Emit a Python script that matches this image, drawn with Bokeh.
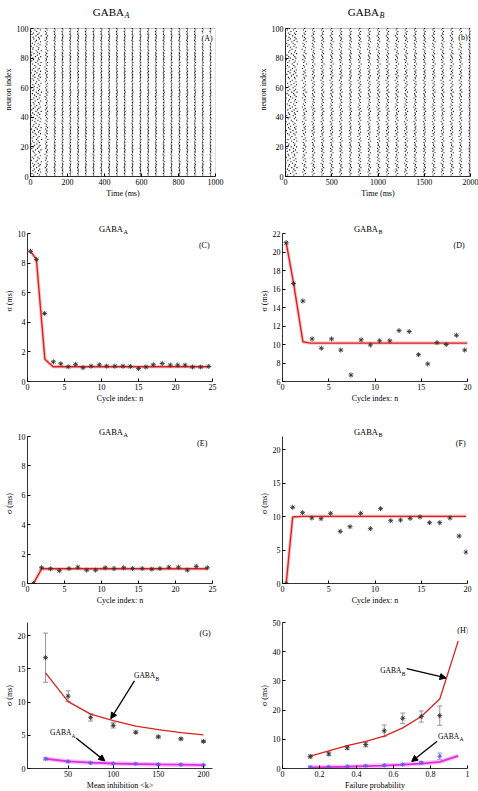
from bokeh.plotting import figure
from bokeh.layouts import column, row
from bokeh.models import (Range1d, Label, Arrow, NormalHead, Whisker, TeeHead,
                          ColumnDataSource, FixedTicker, BoxAnnotation)
from bokeh.embed import file_html
from bokeh.resources import INLINE

FONT = "Liberation Serif"

# ---------------- data ----------------
neuron_offset = [
    0.3, -0.8, 1.2, -0.2, 0.6, -1.5, 0.1, 0.9, -0.4, 1.7,
    -1.1, 0.2, -0.6, 1.0, -1.9, 0.5, -0.1, 1.4, -0.9, 0.0,
    0.8, -1.3, 0.4, -0.5, 1.9, -0.7, 0.2, -1.6, 1.1, -0.3,
    0.7, -1.0, 1.5, -0.2, 0.3, -1.8, 0.9, -0.6, 1.3, 0.1,
    -1.2, 0.6, -0.4, 1.6, -0.9, 0.0, 1.0, -1.4, 0.5, -0.1,
    1.2, -0.8, 0.3, -1.7, 0.8, -0.5, 1.8, -0.2, 0.4, -1.1,
    0.6, -0.3, 1.4, -1.5, 0.2, -0.7, 1.0, -0.1, 0.7, -1.3,
    1.1, -0.6, 0.3, -2.0, 0.9, -0.4, 1.5, -0.9, 0.1, -0.2,
    1.3, -1.0, 0.5, -0.8, 1.7, -0.3, 0.0, -1.2, 0.8, -0.5,
    1.2, -1.6, 0.4, -0.1, 1.6, -0.7, 0.2, -1.4, 1.0, -0.6]

a_times = [15, 45, 86, 131, 173, 215, 257, 299, 341, 383, 425, 467, 509, 551,
           594, 636, 678, 720, 762, 805, 847, 889, 931, 973]
a_jitter = [9.0, 8.0, 4.0, 2.0, 1.8, 1.6, 1.8, 1.5, 1.6, 1.7, 1.6, 1.6, 1.6, 1.6,
            1.5, 1.6, 1.7, 1.8, 1.7, 1.7, 1.7, 1.6, 1.6, 1.6]
b_times = [35, 100, 203, 300, 399, 498, 598, 701, 801, 904, 1004, 1103, 1203,
           1302, 1402, 1502, 1601, 1698, 1797, 1893, 1990]
b_jitter = [20, 15, 12, 9, 8.5, 9, 8.5, 7, 9, 8.5, 9, 9, 10, 10, 8, 7, 9, 9, 9.5,
            8.5, 4]

c_n = [0.4, 1.2, 2.3, 3.5, 4.5, 5.5, 6.5, 7.5, 8.6, 9.7, 10.7, 11.8, 12.9, 13.9,
       15.0, 16.0, 17.0, 18.2, 19.3, 20.3, 21.3, 22.3, 23.4, 24.5]
c_sigma = [8.8, 8.25, 4.6, 1.33, 1.2, 1.0, 1.16, 0.93, 1.04, 1.13, 1.04, 1.04, 1.04,
           1.02, 0.87, 0.98, 1.13, 1.22, 1.11, 1.11, 1.11, 0.98, 0.98, 1.02]
c_theory_n = [0.4, 1.2, 2.35, 3.45, 24.5]
c_theory = [8.8, 8.25, 1.5, 1.0, 1.0]

d_n = [0.4, 1.2, 2.2, 3.2, 4.2, 5.3, 6.3, 7.4, 8.5, 9.5, 10.5, 11.6, 12.6, 13.7,
       14.7, 15.7, 16.7, 17.7, 18.8, 19.7]
d_sigma = [21.0, 16.6, 14.7, 10.6, 9.6, 10.6, 9.4, 6.7, 10.5, 9.95, 10.4, 10.4,
           11.5, 11.4, 8.9, 7.9, 10.2, 10.0, 11.0, 9.4]
d_theory_n = [0.4, 1.2, 2.2, 3.0, 20.0]
d_theory = [21.0, 16.6, 10.3, 10.15, 10.15]

e_n = [0.8, 1.9, 3.1, 4.3, 5.6, 6.8, 8.0, 9.2, 10.5, 11.7, 13.0, 14.2, 15.5, 16.8,
       17.9, 19.1, 20.4, 21.6, 22.8, 24.3]
e_sigma = [0.0, 1.07, 1.0, 0.87, 1.02, 1.11, 0.91, 0.91, 1.07, 1.02, 1.07, 1.02,
           1.02, 0.98, 1.02, 1.11, 1.11, 0.91, 1.16, 1.07]
e_theory_n = [0.8, 1.9, 24.3]
e_theory = [0.0, 1.0, 1.0]

f_n = [0.4, 1.1, 2.17, 3.17, 4.17, 5.2, 6.24, 7.3, 8.45, 9.5, 10.6, 11.7, 12.76,
       13.8, 14.87, 15.9, 17.0, 18.1, 19.1, 19.85]
f_sigma = [0.0, 11.4, 10.6, 9.8, 9.7, 10.5, 7.8, 8.5, 10.5, 8.2, 11.2, 9.4, 9.5,
           9.75, 9.95, 9.1, 9.1, 9.8, 7.1, 4.7]
f_theory_n = [0.4, 1.1, 2.2, 19.85]
f_theory = [0.0, 9.95, 10.05, 10.05]

g_k = [25, 50, 75, 100, 125, 150, 175, 200]
g_theory_B = [14.4, 10.07, 8.2, 7.2, 6.4, 5.85, 5.4, 5.06]
g_sim_B = [16.7, 10.9, 7.7, 6.5, 5.45, 4.77, 4.47, 4.08]
g_err_B = [3.7, 0.8, 0.55, 0.4, 0.2, 0.15, 0.15, 0.15]
g_theory_A = [1.47, 1.08, 0.88, 0.75, 0.68, 0.62, 0.57, 0.52]
g_sim_A = [1.45, 1.05, 0.85, 0.75, 0.7, 0.62, 0.58, 0.52]
g_err_A = [0.15, 0.12, 0.1, 0.1, 0.1, 0.1, 0.1, 0.1]

h_p = [0.15, 0.25, 0.35, 0.45, 0.55, 0.65, 0.75, 0.85, 0.95]
h_theory_B = [4.2, 6.0, 7.8, 9.3, 11.1, 13.9, 17.8, 23.8, 43.7]
h_theory_A = [0.4, 0.5, 0.6, 0.8, 1.0, 1.3, 1.7, 2.3, 4.3]
h_sim_p = [0.15, 0.25, 0.35, 0.45, 0.55, 0.65, 0.75, 0.85]
h_sim_B = [4.1, 5.0, 7.1, 8.2, 12.9, 17.2, 17.8, 18.1]
h_err_B = [0.5, 0.6, 0.6, 0.8, 2.0, 1.8, 1.9, 3.3]
h_sim_A = [0.5, 0.55, 0.7, 0.9, 1.1, 1.4, 2.0, 4.2]
h_err_A = [0.2, 0.2, 0.2, 0.2, 0.3, 0.3, 0.4, 1.1]

RED = "#dd1f1f"
RED_HALO = "#f3a3a3"
MAG = "#e22ee2"
MAG_HALO = "#f29af2"
STAR = "#333333"
BLUE = "#5a5ae6"

# left column: border 27 + frame 185 + 10 ; right column: 60 + 185 + 10
LEFT_COL = (27, 10)
RIGHT_COL = (60, 10)
FRAME_W = 185


def style_axis(ax):
    ax.axis_line_color = "black"
    ax.axis_line_width = 0.8
    ax.major_tick_in = 3
    ax.major_tick_out = 0
    ax.major_tick_line_color = "black"
    ax.minor_tick_line_color = None
    ax.major_label_text_font = FONT
    ax.major_label_text_font_size = "8px"
    ax.major_label_text_color = "black"
    ax.major_label_standoff = 2
    ax.axis_label_text_font = FONT
    ax.axis_label_text_font_size = "8px"
    ax.axis_label_text_font_style = "normal"
    ax.axis_label_text_color = "black"
    ax.axis_label_standoff = 1


def make_fig(xr, yr, axis_h, extra, col, T, B, xticks, yticks, xlabel, ylabel,
             boxed=False):
    # the frame is `extra` px taller than the axis, so titles fit inside it
    ytop = yr[1] + extra * (yr[1] - yr[0]) / axis_h
    p = figure(frame_width=FRAME_W, frame_height=axis_h + extra,
               x_range=Range1d(*xr), y_range=Range1d(yr[0], ytop),
               output_backend="svg", toolbar_location=None,
               min_border_left=col[0], min_border_right=col[1], min_border_top=T,
               min_border_bottom=B, title=None)
    p.grid.visible = False
    p.outline_line_color = None
    p.xaxis.ticker = FixedTicker(ticks=xticks)
    p.yaxis.ticker = FixedTicker(ticks=yticks)
    p.yaxis.bounds = (yr[0], yr[1])
    for ax in p.axis:
        style_axis(ax)
    p.below[0].axis_label = xlabel
    p.left[0].axis_label = ylabel
    if boxed:
        p.add_layout(BoxAnnotation(left=xr[0], right=xr[1], bottom=yr[0], top=yr[1],
                                   fill_alpha=0, line_color="black", line_width=0.8))
    return p


def txt(p, x, y, text, size="8px", align="left", baseline="alphabetic",
        xo=0, yo=0, style="normal", bg=None):
    p.add_layout(Label(x=x, y=y, text=text, text_font=FONT, text_font_size=size,
                       text_align=align, text_baseline=baseline, x_offset=xo,
                       y_offset=yo, text_font_style=style, text_color="black",
                       background_fill_color=bg))


def sub_title(p, xc, ytop, sub, big=False):
    if big:
        txt(p, xc, ytop, "GABA", size="11px", align="right", xo=1, yo=17)
        txt(p, xc, ytop, sub, size="8px", align="left", xo=1.5, yo=13, style="italic")
    else:
        txt(p, xc, ytop, "GABA", size="8.5px", align="right", xo=3, yo=5)
        txt(p, xc, ytop, sub, size="6px", align="left", xo=3.5, yo=1.5)


def raster(p, times, jitter, offs):
    xs, ys = [], []
    for t, j in zip(times, jitter):
        for i, o in enumerate(offs):
            xs.append(t + j * o)
            ys.append(i + 1)
    p.scatter(xs, ys, marker="square", size=1.1, color="#111111", line_width=0)


# ---------------- row 1: rasters ----------------
pA = make_fig((0, 1000), (0, 100), 148, 26, LEFT_COL, 2, 33,
              [0, 200, 400, 600, 800, 1000], [0, 20, 40, 60, 80, 100],
              "Time (ms)", "neuron index", boxed=True)
raster(pA, a_times, a_jitter, neuron_offset)
sub_title(pA, 500, 100, "A", big=True)
txt(pA, 985, 93.5, "(A)", align="right", baseline="middle", bg="white")

pB = make_fig((0, 2000), (0, 100), 148, 26, RIGHT_COL, 2, 33,
              [0, 500, 1000, 1500, 2000], [0, 20, 40, 60, 80, 100],
              "Time (ms)", "neuron index", boxed=True)
raster(pB, b_times, b_jitter, neuron_offset[::-1])
sub_title(pB, 1000, 100, "B", big=True)
txt(pB, 1968, 94, "(b)", align="right", baseline="middle", bg="white")


def sigma_panel(xr, yr, axis_h, col, T, B, xticks, yticks, n, s, tn, tv, sub,
                tag, tagxy):
    p = make_fig(xr, yr, axis_h, 13, col, T, B, xticks, yticks,
                 "Cycle index: n", "σ (ms)")
    p.line(tn, tv, color=RED_HALO, line_width=3.5, alpha=0.6)
    p.line(tn, tv, color=RED, line_width=1.4)
    p.scatter(n, s, marker="asterisk", size=5, line_color=STAR, line_width=0.9)
    sub_title(p, (xr[0] + xr[1]) / 2, yr[1], sub)
    txt(p, tagxy[0], tagxy[1], tag, align="right", baseline="middle")
    return p


pC = sigma_panel((0, 25), (0, 10), 148, LEFT_COL, 11, 32, [0, 5, 10, 15, 20, 25],
                 [0, 2, 4, 6, 8, 10], c_n, c_sigma, c_theory_n, c_theory, "A",
                 "(C)", (24.6, 9.2))
pD = sigma_panel((0, 20), (6, 22), 148, RIGHT_COL, 11, 32, [0, 5, 10, 15, 20],
                 [6, 8, 10, 12, 14, 16, 18, 20, 22], d_n, d_sigma, d_theory_n,
                 d_theory, "B", "(D)", (19.7, 20.7))
pE = sigma_panel((0, 25), (0, 10), 147, LEFT_COL, 10, 29, [0, 5, 10, 15, 20, 25],
                 [0, 2, 4, 6, 8, 10], e_n, e_sigma, e_theory_n, e_theory, "A",
                 "(E)", (24.3, 9.5))
pF = sigma_panel((0, 20), (0, 22), 147, RIGHT_COL, 10, 29, [0, 5, 10, 15, 20],
                 [0, 5, 10, 15, 20], f_n, f_sigma, f_theory_n, f_theory, "B",
                 "(F)", (19.8, 21.0))


def err_bars(p, x, y, e, color):
    src = ColumnDataSource(dict(x=x, lo=[a - b for a, b in zip(y, e)],
                                hi=[a + b for a, b in zip(y, e)]))
    p.add_layout(Whisker(source=src, base="x", lower="lo", upper="hi",
                         line_color=color, line_width=0.9,
                         upper_head=TeeHead(size=5, line_color=color, line_width=0.9),
                         lower_head=TeeHead(size=5, line_color=color, line_width=0.9)))


def arrow(p, xs, ys, xe, ye):
    p.add_layout(Arrow(x_start=xs, y_start=ys, x_end=xe, y_end=ye, line_width=1.3,
                       line_color="black",
                       end=NormalHead(size=6, fill_color="black", line_color="black")))


def gaba_label(p, x, y, sub):
    txt(p, x, y, "GABA", size="7.5px", align="left")
    txt(p, x, y, sub, size="5.5px", align="left", xo=21.5, yo=-3)


# ---------------- G ----------------
pG = make_fig((5, 210), (0, 22), 146, 0, LEFT_COL, 10, 21, [50, 100, 150, 200],
              [0, 5, 10, 15, 20], "Mean inhibition <k>", "σ (ms)")
pG.line(g_k, g_theory_B, color=RED, line_width=1.3)
err_bars(pG, g_k, g_sim_B, g_err_B, "#8a8a8a")
pG.scatter(g_k, g_sim_B, marker="asterisk", size=5, line_color=STAR, line_width=0.9)
pG.line(g_k, g_theory_A, color=MAG_HALO, line_width=4.5, alpha=0.6)
pG.line(g_k, g_theory_A, color=MAG, line_width=1.8)
err_bars(pG, g_k, g_sim_A, g_err_A, "#8a8aee")
pG.scatter(g_k, g_sim_A, marker="asterisk", size=4.5, line_color=BLUE, line_width=0.9)
gaba_label(pG, 123, 14.0, "B")
arrow(pG, 123.5, 13.2, 97.3, 7.5)
gaba_label(pG, 30, 5.4, "A")
arrow(pG, 58.8, 4.6, 90.7, 1.15)
txt(pG, 208, 20.4, "(G)", align="right", baseline="middle")

# ---------------- H ----------------
pH = make_fig((0, 1), (0, 50), 146, 0, RIGHT_COL, 10, 21, [0, 0.2, 0.4, 0.6, 0.8, 1],
              [0, 10, 20, 30, 40, 50], "Failure probability", "σ (ms)")
pH.below[0].major_label_overrides = {0: "0", 1: "1"}
pH.line(h_p, h_theory_B, color=RED, line_width=1.3)
err_bars(pH, h_sim_p, h_sim_B, h_err_B, "#8a8a8a")
pH.scatter(h_sim_p, h_sim_B, marker="asterisk", size=5, line_color=STAR, line_width=0.9)
pH.line(h_p, h_theory_A, color=MAG_HALO, line_width=4.5, alpha=0.6)
pH.line(h_p, h_theory_A, color=MAG, line_width=1.8)
err_bars(pH, h_sim_p, h_sim_A, h_err_A, "#8a8aee")
pH.scatter(h_sim_p, h_sim_A, marker="asterisk", size=4.5, line_color=BLUE, line_width=0.9)
gaba_label(pH, 0.528, 33.4, "B")
arrow(pH, 0.671, 34.2, 0.884, 31.0)
gaba_label(pH, 0.84, 11.1, "A")
arrow(pH, 0.836, 9.3, 0.698, 2.4)
txt(pH, 1.005, 47.3, "(H)", align="right", baseline="middle")

layout = column(row(pA, pB), row(pC, pD), row(pE, pF), row(pG, pH))
open("out.html", "w").write(file_html(layout, INLINE))
